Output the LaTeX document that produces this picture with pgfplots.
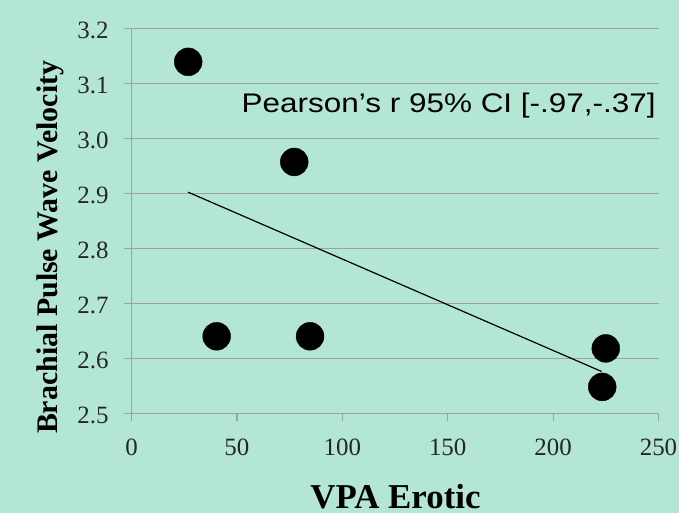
\documentclass[border=0pt]{standalone}
\usepackage{pgfplots}
\pgfplotsset{compat=1.18}
\usepackage{fontspec}
\setmainfont{Liberation Serif}
\newfontfamily\arial{Liberation Sans}
\definecolor{bgmint}{RGB}{180,230,212}
\definecolor{gridgray}{RGB}{160,160,160}
\begin{document}
\begin{tikzpicture}[x=1bp,y=1bp]
\path[use as bounding box,fill=bgmint] (-131.5,-99.7) rectangle (547.5,413.3);
\begin{axis}[
  at={(0,0)}, anchor=south west,
  scale only axis, width=527bp, height=385bp,
  xmin=0, xmax=250, ymin=2.5, ymax=3.2,
  xtick={0,50,100,150,200,250},
  ytick={2.5,2.6,2.7,2.8,2.9,3.0,3.1,3.2},
  yticklabel style={/pgf/number format/fixed,/pgf/number format/fixed zerofill,/pgf/number format/precision=1, xshift=-12bp, yshift=-2bp},
  /pgf/number format/assume math mode=true,
  ticklabel style={font=\fontsize{25}{25}\selectfont, text=black!85},
  xticklabel style={yshift=-15bp},
  axis x line*=bottom, axis y line*=left,
  axis line style={gridgray, line width=1.2bp},
  tick style={gridgray, line width=1.2bp},
  tick align=outside, major tick length=7.5bp,
  ymajorgrids, grid style={gridgray, line width=1.2bp},
  clip=false,
]
\addplot[only marks, mark=*, mark size=14pt, black] coordinates {
  (26.9,3.139) (77.2,2.957) (40.4,2.640) (84.7,2.640) (225.0,2.618) (223.3,2.548)
};
\addplot[black, line width=1.2bp] coordinates {(26.9,2.902) (223.0,2.576)};
\end{axis}
\node[anchor=base west, inner sep=0pt, font=\arial\fontsize{27}{27}\selectfont, xscale=1.17] at (110,300.3) {Pearson’s r 95\% CI [-.97,-.37]};
\node[anchor=base, font=\bfseries\fontsize{35}{35}\selectfont, inner sep=0pt] at (264,-95.7) {VPA Erotic};
\node[font=\bfseries\fontsize{30}{30}\selectfont, inner sep=0pt, rotate=90] at (-81,166) {Brachial Pulse Wave Velocity};
\end{tikzpicture}
\end{document}
